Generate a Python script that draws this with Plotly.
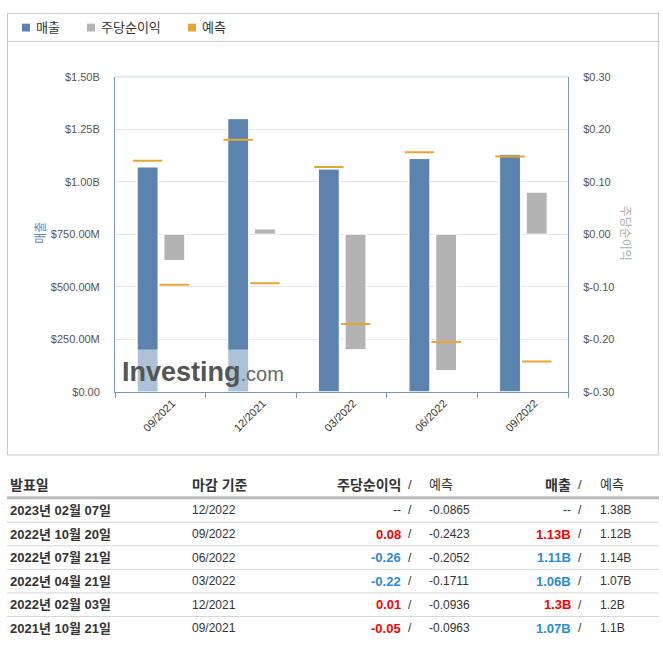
import numpy as np
import plotly.graph_objects as go

# chart data (quarterly revenue / EPS with consensus)
periods = ["09/2021", "12/2021", "03/2022", "06/2022", "09/2022"]
revenue = [1.07e9, 1.30e9, 1.06e9, 1.11e9, 1.13e9]
revenue_fc = [1.10e9, 1.20e9, 1.07e9, 1.14e9, 1.12e9]
eps = [-0.05, 0.01, -0.22, -0.26, 0.08]
eps_fc = [-0.0963, -0.0936, -0.1711, -0.2052, -0.2423]

rev_ticks = [0, 2.5e8, 5e8, 7.5e8, 1e9, 1.25e9, 1.5e9]
rev_ticktext = ["$0.00", "$250.00M", "$500.00M", "$750.00M", "$1.00B", "$1.25B", "$1.50B"]
eps_ticks = [-0.3, -0.2, -0.1, 0, 0.1, 0.2, 0.3]
eps_ticktext = ["$-0.30", "$-0.20", "$-0.10", "$0.00", "$0.10", "$0.20", "$0.30"]

legend_names = ["매출", "주당순이익", "예측"]

# table data
header = ["발표일", "마감 기준", "주당순이익", "예측", "매출", "예측"]
release_dates = ["2023년 02월 07일", "2022년 10월 20일", "2022년 07월 21일",
                 "2022년 04월 21일", "2022년 02월 03일", "2021년 10월 21일"]
period_end = ["12/2022", "09/2022", "06/2022", "03/2022", "12/2021", "09/2021"]
eps_actual_txt = ["--", "0.08", "-0.26", "-0.22", "0.01", "-0.05"]
eps_fc_txt = ["-0.0865", "-0.2423", "-0.2052", "-0.1711", "-0.0936", "-0.0963"]
rev_actual_txt = ["--", "1.13B", "1.11B", "1.06B", "1.3B", "1.07B"]
rev_fc_txt = ["1.38B", "1.12B", "1.14B", "1.07B", "1.2B", "1.1B"]

BLUE = "#5b83ae"
GRAY = "#b3b3b3"
ORANGE = "#e9a534"
AXIS = "#7796c4"
RED = "#ff0000"
LBLUE = "#2a8ad8"
FONT = "Liberation Sans, Arial, Noto Sans CJK KR"
TXT = "#333"

W, H = 663, 646
def px(x):
    return x / W
def py(y):
    return 1 - y / H

x = np.arange(len(periods))

fig = go.Figure()
fig.add_trace(go.Bar(x=x, y=revenue, name=legend_names[0], width=0.23, offset=-0.255,
                     marker=dict(color=BLUE, line=dict(color="white", width=1))))
fig.add_trace(go.Scatter(x=x - 0.14, y=revenue_fc, name=legend_names[2], mode="markers",
                         marker=dict(symbol="line-ew", size=21, line=dict(color=ORANGE, width=2))))
fig.add_trace(go.Bar(x=x, y=eps, name=legend_names[1], yaxis="y2", width=0.23, offset=0.04,
                     marker=dict(color=GRAY, line=dict(color="white", width=1))))
fig.add_trace(go.Scatter(x=x + 0.155, y=eps_fc, name=legend_names[2], yaxis="y2", mode="markers",
                         marker=dict(symbol="line-ew", size=21, line=dict(color=ORANGE, width=2))))

shapes = []
annotations = []

# outer frame + legend strip
shapes.append(dict(type="rect", xref="paper", yref="paper", x0=px(7.5), x1=px(658.5),
                   y0=py(457.5), y1=py(7.5), line=dict(color="#c8c8c8", width=1)))
shapes.append(dict(type="line", xref="paper", yref="paper", x0=px(7.5), x1=px(658.5),
                   y0=py(36), y1=py(36), line=dict(color="#c8c8c8", width=1)))
# top edge of plot area
shapes.append(dict(type="line", xref="paper", yref="paper", x0=px(115), x1=px(568),
                   y0=py(72), y1=py(72), line=dict(color="#e2e7ee", width=2)))

# legend (drawn by hand to match spacing)
legend_x = [22, 87, 188]
for name, col, lx in zip(legend_names, [BLUE, GRAY, ORANGE], legend_x):
    shapes.append(dict(type="rect", xref="paper", yref="paper", x0=px(lx), x1=px(lx + 8),
                       y0=py(26), y1=py(18), fillcolor=col, line=dict(width=0)))
    annotations.append(dict(text=name, xref="paper", yref="paper", x=px(lx + 12), y=py(22),
                            xanchor="left", yanchor="middle", showarrow=False,
                            font=dict(family=FONT, size=13, color=TXT)))

# axis titles
annotations.append(dict(text="매출", xref="paper", yref="paper", x=px(32), y=py(231),
                        textangle=-90, showarrow=False, font=dict(family=FONT, size=12, color="#6a85c0")))
annotations.append(dict(text="주당순이익", xref="paper", yref="paper", x=px(634), y=py(231),
                        textangle=90, showarrow=False, font=dict(family=FONT, size=12, color="#aaaaaa")))

# watermark
shapes.append(dict(type="rect", xref="paper", yref="paper", x0=px(115.5), x1=px(300),
                   y0=py(392.5), y1=py(350), fillcolor="rgba(255,255,255,0.5)",
                   line=dict(width=0), layer="above"))
annotations.append(dict(text="<b>Investing</b><span style='font-size:20px;color:#666'>.com</span>",
                        xref="paper", yref="paper", x=px(120), y=py(373), xanchor="left",
                        yanchor="middle", showarrow=False,
                        font=dict(family=FONT, size=27, color="#555")))

# table
def cell(text, xpos, ypos, anchor, size=12, color=TXT, bold=False):
    t = f"<b>{text}</b>" if bold else text
    annotations.append(dict(text=t, xref="paper", yref="paper", x=px(xpos), y=py(ypos),
                            xanchor=anchor, yanchor="middle", showarrow=False,
                            font=dict(family=FONT, size=size, color=color)))

hy = 488
cell(header[0], 8, hy, "left", 14, bold=True)
cell(header[1], 190, hy, "left", 14, bold=True)
cell(header[2], 403, hy, "right", 14, bold=True)
cell("/", 410, hy, "center", 13)
cell(header[3], 427, hy, "left", 13)
cell(header[4], 573, hy, "right", 14, bold=True)
cell("/", 580, hy, "center", 13)
cell(header[5], 598, hy, "left", 13)

shapes.append(dict(type="line", xref="paper", yref="paper", x0=px(7), x1=px(659),
                   y0=py(501), y1=py(501), line=dict(color="#bbbbbb", width=3)))

eps_beat = [a > f for a, f in zip(eps, eps_fc)][::-1]
rev_beat = [a > f for a, f in zip(revenue, revenue_fc)][::-1]

for i in range(len(release_dates)):
    ry = 514 + 24 * i
    if i > 0:
        shapes.append(dict(type="line", xref="paper", yref="paper", x0=px(7), x1=px(659),
                           y0=py(ry - 12), y1=py(ry - 12), line=dict(color="#d5d5d5", width=1)))
    cell(release_dates[i], 8, ry, "left", 13, bold=True)
    cell(period_end[i], 190, ry, "left", 12)
    if i == 0:
        cell(eps_actual_txt[i], 403, ry, "right", 12)
        cell(rev_actual_txt[i], 573, ry, "right", 12)
    else:
        cell(eps_actual_txt[i], 403, ry, "right", 13, RED if eps_beat[i - 1] else LBLUE, bold=True)
        cell(rev_actual_txt[i], 573, ry, "right", 13, RED if rev_beat[i - 1] else LBLUE, bold=True)
    cell("/", 410, ry, "center", 12)
    cell(eps_fc_txt[i], 427, ry, "left", 12)
    cell("/", 580, ry, "center", 12)
    cell(rev_fc_txt[i], 598, ry, "left", 12)

fig.update_layout(
    width=W, height=H,
    margin=dict(l=0, r=0, t=0, b=0),
    paper_bgcolor="white", plot_bgcolor="white",
    showlegend=False, barmode="overlay",
    font=dict(family=FONT, color=TXT),
    # labels are nudged right so the slanted text sits under the middle of each slot
    xaxis=dict(domain=[px(115), px(568)], range=[-0.5, len(periods) - 0.5],
               tickmode="array", tickvals=x + 0.13, ticktext=periods, tickangle=-45,
               ticks="", showline=True, linecolor=AXIS, linewidth=1,
               showgrid=False, zeroline=False, tickfont=dict(size=11, color=TXT),
               minor=dict(tickmode="array", tickvals=np.append(x - 0.5, x[-1] + 0.5),
                          ticks="outside", ticklen=5, tickcolor=AXIS, showgrid=False)),
    yaxis=dict(domain=[py(393), py(72)], range=[0, 1.5e9],
               tickmode="array", tickvals=rev_ticks, ticktext=rev_ticktext,
               ticks="", showline=True, linecolor=AXIS, showgrid=True, gridcolor="#e8e8e8",
               zeroline=False, tickfont=dict(size=11, color="#555"), ticklabelstandoff=12),
    yaxis2=dict(domain=[py(393), py(72)], overlaying="y", side="right", anchor="x",
                range=[-0.3, 0.3], tickmode="array", tickvals=eps_ticks, ticktext=eps_ticktext,
                ticks="", showline=True, linecolor=AXIS, showgrid=False, zeroline=False,
                tickfont=dict(size=11, color="#555"), ticklabelstandoff=12),
    shapes=shapes,
    annotations=annotations,
)

# drop the default page margin so the figure sits at the window's top-left corner
fig.write_html("out.html", config={"displayModeBar": False},
               post_script="document.body.style.margin = '0';")
